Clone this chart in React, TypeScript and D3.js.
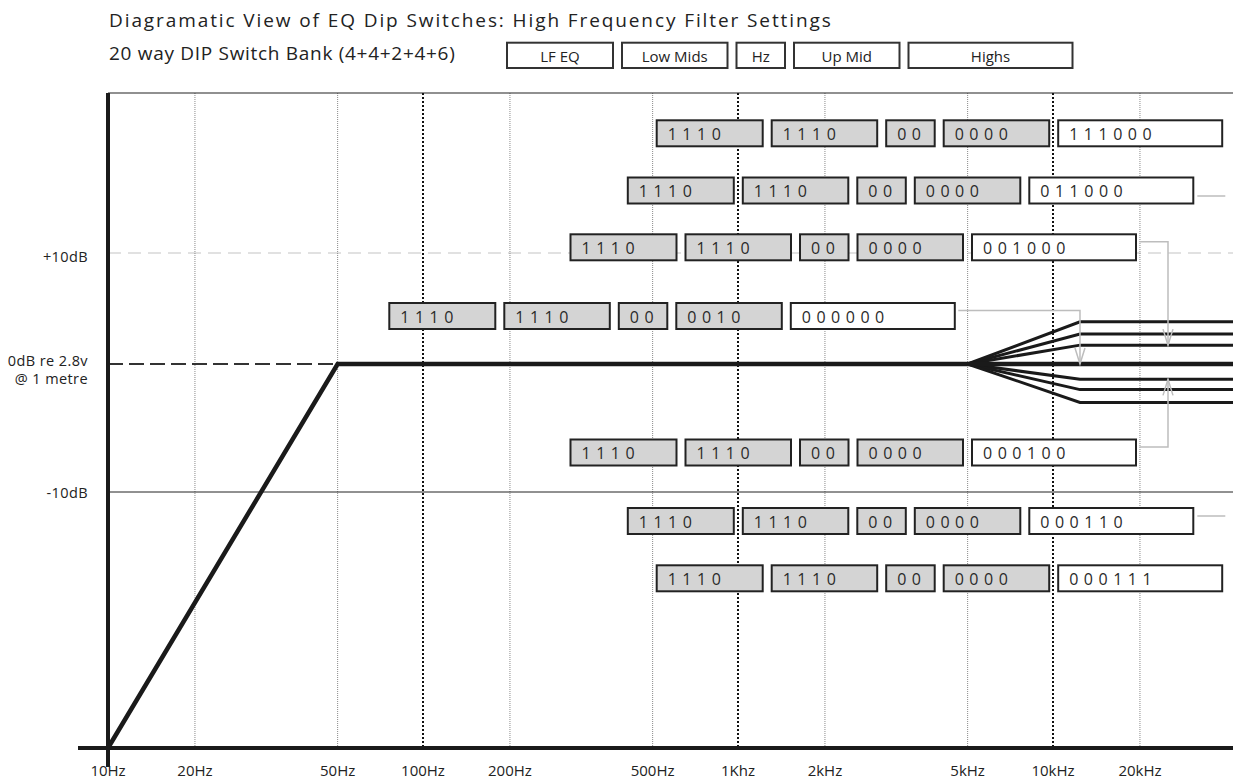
import React, { useEffect, useRef } from 'react';
import * as d3 from 'd3';

// frequency axis
const freqTicks = [10, 20, 50, 100, 200, 500, 1000, 2000, 5000, 10000, 20000];
const freqLabels = ['10Hz', '20Hz', '50Hz', '100Hz', '200Hz', '500Hz', '1Khz', '2kHz', '5kHz', '10kHz', '20kHz'];
const decadeFreqs = [100, 1000, 10000];

// level axis
const levelLines = [10, 0, -10];

// dip switch sections (4+4+2+4+6)
const sections = ['LF EQ', 'Low Mids', 'Hz', 'Up Mid', 'Highs'];

// one row per high frequency setting
const lfEq = ['1110', '1110', '1110', '1110', '1110', '1110', '1110'];
const lowMids = ['1110', '1110', '1110', '1110', '1110', '1110', '1110'];
const hzBits = ['00', '00', '00', '00', '00', '00', '00'];
const upMid = ['0000', '0000', '0000', '0010', '0000', '0000', '0000'];
const highs = ['111000', '011000', '001000', '000000', '000100', '000110', '000111'];
const highsGainDb = [3.8, 2.7, 1.7, 0, -1.2, -2, -3];

// response shape
const rollOffStart = 10;
const rollOffFloorDb = -30;
const rollOffCorner = 50;
const shelfStart = 5000;
const shelfEnd = 12400;

// layout
const W = 1239;
const H = 780;
const plot = { left: 108, right: 1233, top: 93, bottom: 748 };
const decadePx = 315;
// the drawing spaces the 1-2-5 lines a little more evenly than a true log scale
const decadeSteps = [0, 0.276, 0.729];
const boxW = [106, 105.5, 48.5, 105.5, 164];
const boxGap = 9;
const boxH = 26;
const rowX = [656.7, 627.8, 570.5, 389.3, 570.5, 627.8, 656.7];
const rowY = [133.3, 190.5, 247.3, 316, 452.5, 521, 578.3];
const header = { x: 507, y: 42.7, h: 25.3 };
const FONT = '"Open Sans", sans-serif';

const Chart = () => {
  const svgRef = useRef<SVGSVGElement | null>(null);

  useEffect(() => {
    const svg = d3.select(svgRef.current);
    svg.selectAll('*').remove();

    const x = d3.scaleLog()
      .domain(freqTicks)
      .range(freqTicks.map((_, i) => plot.left + decadePx * (Math.floor(i / 3) + decadeSteps[i % 3])));
    const y = d3.scaleLinear().domain([rollOffFloorDb, 0, 10]).range([plot.bottom, 364, 253]);
    const fMax = x.invert(plot.right);

    const line = d3.line<[number, number]>()
      .x((d) => x(d[0]))
      .y((d) => y(d[1]));

    const g = svg.append('g').attr('font-family', FONT);

    // +10dB reference (light dashed)
    g.append('line')
      .attr('x1', plot.left).attr('x2', plot.right)
      .attr('y1', y(10)).attr('y2', y(10))
      .attr('stroke', '#d8d8d8').attr('stroke-width', 1.5)
      .attr('stroke-dasharray', '13,7');

    // vertical grid
    g.selectAll('.grid')
      .data(freqTicks.slice(1))
      .enter().append('line')
      .attr('x1', (d) => x(d)).attr('x2', (d) => x(d))
      .attr('y1', plot.top).attr('y2', plot.bottom)
      .attr('stroke', (d) => (decadeFreqs.includes(d) ? '#111' : '#8a8a8a'))
      .attr('stroke-width', (d) => (decadeFreqs.includes(d) ? 2 : 1))
      .attr('stroke-dasharray', (d) => (decadeFreqs.includes(d) ? '2,2' : '1,1'));

    // top frame and -10dB line
    g.append('line')
      .attr('x1', plot.left).attr('x2', plot.right)
      .attr('y1', plot.top).attr('y2', plot.top)
      .attr('stroke', '#222').attr('stroke-width', 1.2);
    g.append('line')
      .attr('x1', plot.left).attr('x2', plot.right)
      .attr('y1', y(-10)).attr('y2', y(-10))
      .attr('stroke', '#222').attr('stroke-width', 1);

    // 0dB reference up to the corner
    g.append('line')
      .attr('x1', plot.left).attr('x2', x(rollOffCorner))
      .attr('y1', y(0)).attr('y2', y(0))
      .attr('stroke', '#333').attr('stroke-width', 2)
      .attr('stroke-dasharray', '15,6');

    // fan of high shelf settings
    highsGainDb.forEach((db) => {
      if (db === 0) return;
      g.append('path')
        .attr('d', line([[shelfStart, 0], [shelfEnd, db], [fMax, db]]))
        .attr('fill', 'none').attr('stroke', '#1a1a1a')
        .attr('stroke-width', 3);
    });

    // main response
    g.append('path')
      .attr('d', line([[rollOffStart, rollOffFloorDb], [rollOffCorner, 0], [fMax, 0]]))
      .attr('fill', 'none').attr('stroke', '#1a1a1a')
      .attr('stroke-width', 4.5).attr('stroke-linejoin', 'miter');

    // connectors from the Highs box to the curves
    const rowRight = (i: number) => rowX[i] + d3.sum(boxW) + boxGap * 4;
    const grey = '#bdbdbd';
    highs.forEach((code, i) => {
      const rx = rowRight(i);
      const db = highsGainDb[i];
      if (i === 1 || i === 5) {
        const sy = rowY[i] + (i === 1 ? 5.5 : -5);
        g.append('line')
          .attr('x1', rx + 4).attr('x2', rx + 32)
          .attr('y1', sy).attr('y2', sy)
          .attr('stroke', grey).attr('stroke-width', 1.5);
      }
      if (i >= 2 && i <= 4) {
        const sy = rowY[i] - 5.5;
        const ex = Math.max(rx + 32, x(shelfEnd));
        const ty = y(db);
        const dir = ty > sy ? 1 : -1;
        g.append('path')
          .attr('d', `M${rx + 3.5},${sy}H${ex}V${ty}`)
          .attr('fill', 'none').attr('stroke', grey).attr('stroke-width', 1.5);
        g.append('path')
          .attr('d', `M${ex - 5},${ty - dir * 16}L${ex},${ty}L${ex + 5},${ty - dir * 16}`)
          .attr('fill', 'none').attr('stroke', grey).attr('stroke-width', 1.5);
      }
    });

    // switch rows
    const rows = highs.map((_, i) => [lfEq[i], lowMids[i], hzBits[i], upMid[i], highs[i]]);
    rows.forEach((codes, i) => {
      let bx = rowX[i];
      codes.forEach((code, k) => {
        const w = boxW[k];
        g.append('rect')
          .attr('x', bx).attr('y', rowY[i] - boxH / 2)
          .attr('width', w).attr('height', boxH)
          .attr('fill', k === 4 ? '#fff' : '#d4d4d4')
          .attr('stroke', '#222').attr('stroke-width', 2);
        g.append('text')
          .attr('x', bx + 11).attr('y', rowY[i] + 6.5)
          .attr('font-size', 16).attr('letter-spacing', 5.5)
          .attr('fill', '#2a2a2a')
          .text(code);
        bx += w + boxGap;
      });
    });

    // header boxes
    let hx = header.x;
    sections.forEach((name, k) => {
      const w = boxW[k];
      g.append('rect')
        .attr('x', hx).attr('y', header.y)
        .attr('width', w).attr('height', header.h)
        .attr('fill', '#fff').attr('stroke', '#333').attr('stroke-width', 2);
      g.append('text')
        .attr('x', hx + w / 2).attr('y', header.y + 19.5)
        .attr('text-anchor', 'middle').attr('font-size', 15)
        .attr('fill', '#222')
        .text(name);
      hx += w + boxGap;
    });

    // axes
    g.append('line')
      .attr('x1', plot.left).attr('x2', plot.left)
      .attr('y1', plot.top).attr('y2', plot.bottom + 19)
      .attr('stroke', '#1a1a1a').attr('stroke-width', 4);
    g.append('line')
      .attr('x1', plot.left - 30).attr('x2', plot.right)
      .attr('y1', plot.bottom).attr('y2', plot.bottom)
      .attr('stroke', '#1a1a1a').attr('stroke-width', 4);

    // frequency labels
    g.selectAll('.flabel')
      .data(freqTicks)
      .enter().append('text')
      .attr('x', (d) => x(d)).attr('y', 776)
      .attr('text-anchor', 'middle').attr('font-size', 15).attr('fill', '#222')
      .text((d, i) => freqLabels[i]);

    // level labels
    const ylab = g.append('g').attr('text-anchor', 'end').attr('font-size', 14.5)
      .attr('letter-spacing', 0.4).attr('fill', '#222');
    ylab.append('text').attr('x', 88).attr('y', y(levelLines[0]) + 9).text('+10dB');
    ylab.append('text').attr('x', 88).attr('y', y(levelLines[1]) + 2).text('0dB re 2.8v');
    ylab.append('text').attr('x', 88).attr('y', y(levelLines[1]) + 20).text('@ 1 metre');
    ylab.append('text').attr('x', 88).attr('y', y(levelLines[2]) + 6).text('-10dB');

    // titles
    g.append('text')
      .attr('x', 109).attr('y', 27)
      .attr('font-size', 19).attr('letter-spacing', 1.9).attr('fill', '#222')
      .text('Diagramatic View of EQ Dip Switches: High Frequency Filter Settings');
    g.append('text')
      .attr('x', 109).attr('y', 60)
      .attr('font-size', 19).attr('letter-spacing', 0.7).attr('fill', '#222')
      .text('20 way DIP Switch Bank (4+4+2+4+6)');
  }, []);

  return (
    <svg
      ref={svgRef}
      width={W}
      height={H}
      style={{ position: 'absolute', left: 0, top: 0, background: '#fff' }}
    />
  );
};

export default function App() {
  return <Chart />;
}
